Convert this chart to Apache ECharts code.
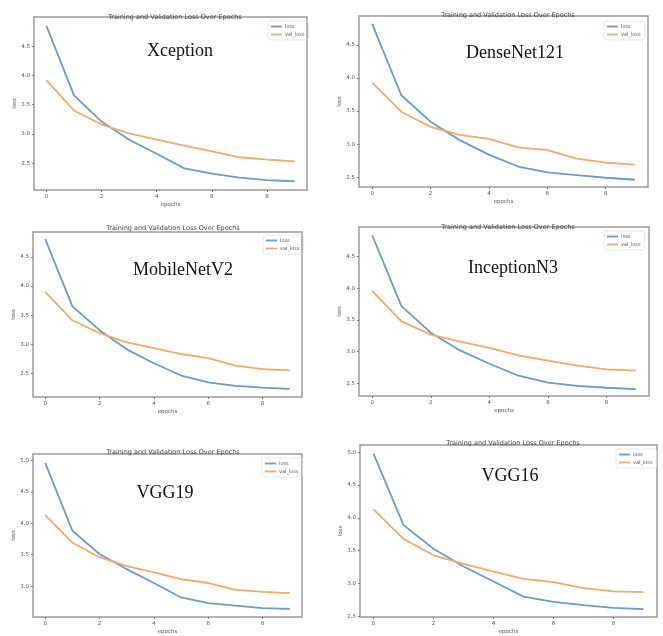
<!DOCTYPE html>
<html>
<head>
<meta charset="utf-8">
<script src="https://cdn.jsdelivr.net/npm/echarts@6/dist/echarts.min.js"></script>
<style>
html,body{margin:0;padding:0;background:#fff;}
#chart{width:663px;height:636px;}
</style>
</head>
<body>
<div id="chart"></div>
<script>
const epochs = [0, 1, 2, 3, 4, 5, 6, 7, 8, 9];
const xTicks = [0, 2, 4, 6, 8];
const panelTitle = 'Training and Validation Loss Over Epochs';
const modelNames = ['Xception', 'DenseNet121', 'MobileNetV2', 'InceptionN3', 'VGG19', 'VGG16'];

const xceptionLoss = [4.85, 3.66, 3.21, 2.90, 2.66, 2.41, 2.32, 2.25, 2.21, 2.19];
const xceptionVal  = [3.92, 3.40, 3.16, 3.01, 2.90, 2.80, 2.70, 2.60, 2.56, 2.53];
const densenetLoss = [4.82, 3.74, 3.34, 3.06, 2.84, 2.66, 2.57, 2.53, 2.49, 2.46];
const densenetVal  = [3.93, 3.49, 3.26, 3.14, 3.08, 2.95, 2.91, 2.78, 2.72, 2.69];
const mobilenetLoss = [4.81, 3.65, 3.24, 2.91, 2.67, 2.46, 2.34, 2.28, 2.25, 2.23];
const mobilenetVal  = [3.90, 3.41, 3.19, 3.03, 2.93, 2.83, 2.76, 2.63, 2.57, 2.55];
const inceptionLoss = [4.84, 3.72, 3.30, 3.02, 2.81, 2.62, 2.51, 2.46, 2.43, 2.41];
const inceptionVal  = [3.96, 3.48, 3.27, 3.16, 3.06, 2.94, 2.86, 2.78, 2.72, 2.70];
const vgg19Loss = [4.96, 3.88, 3.51, 3.27, 3.05, 2.82, 2.73, 2.69, 2.65, 2.64];
const vgg19Val  = [4.13, 3.69, 3.46, 3.32, 3.22, 3.11, 3.05, 2.94, 2.91, 2.89];
const vgg16Loss = [4.98, 3.89, 3.53, 3.26, 3.03, 2.80, 2.72, 2.67, 2.63, 2.61];
const vgg16Val  = [4.13, 3.68, 3.43, 3.30, 3.18, 3.07, 3.02, 2.93, 2.88, 2.87];

const yTicksLow = [2.5, 3.0, 3.5, 4.0, 4.5];
const yTicksHigh = [3.0, 3.5, 4.0, 4.5, 5.0];
const yTicksFull = [2.5, 3.0, 3.5, 4.0, 4.5, 5.0];

const lossSets = [xceptionLoss, densenetLoss, mobilenetLoss, inceptionLoss, vgg19Loss, vgg16Loss];
const valSets = [xceptionVal, densenetVal, mobilenetVal, inceptionVal, vgg19Val, vgg16Val];

// layout (pixels)
const panels = [
  {grid:{left:34, top:17, width:273, height:173}, y:[2.04, 5.00], ticks:yTicksLow, title:[170, 9], name:[175, 48], legend:{left:268, top:21}},
  {grid:{left:359, top:16, width:289, height:171}, y:[2.35, 4.94], ticks:yTicksLow, title:[503, 7], name:[510, 50], legend:{left:604, top:21}},
  {grid:{left:33, top:232, width:269, height:165}, y:[2.09, 4.93], ticks:yTicksLow, title:[168, 220], name:[178, 267], legend:{left:263, top:235}},
  {grid:{left:359, top:227, width:290, height:169}, y:[2.30, 4.97], ticks:yTicksLow, title:[503, 219], name:[508, 265], legend:{left:604, top:231}},
  {grid:{left:33, top:454, width:269, height:167}, y:[2.51, 5.10], ticks:yTicksHigh, title:[168, 444], name:[160, 490], legend:{left:262, top:458}},
  {grid:{left:360, top:445, width:297, height:174}, y:[2.49, 5.11], ticks:yTicksFull, title:[508, 435], name:[505, 473], legend:{left:616, top:449}}
];

const blue = '#6a9bcb';
const orange = '#f5a96b';
const font = 'DejaVu Sans';

const option = {
  animation: false,
  backgroundColor: '#fff',
  title: [],
  legend: [],
  grid: [],
  xAxis: [],
  yAxis: [],
  series: []
};

panels.forEach((p, i) => {
  option.grid.push(Object.assign({show:true, borderColor:'#9a9a9a', borderWidth:1.5, backgroundColor:'transparent'}, p.grid));
  option.xAxis.push({
    type:'value', gridIndex:i, min:-0.45, max:9.45, position:'bottom',
    name:'epochs', nameLocation:'middle', nameGap:12,
    nameTextStyle:{fontFamily:font, fontSize:5.5, color:'#555'},
    axisLine:{show:false, onZero:false}, splitLine:{show:false},
    axisTick:{show:true, length:2, customValues:xTicks, lineStyle:{color:'#777'}},
    axisLabel:{fontFamily:font, fontSize:5.5, color:'#555', margin:4, customValues:xTicks}
  });
  option.yAxis.push({
    type:'value', gridIndex:i, min:p.y[0], max:p.y[1], position:'left',
    name:'loss', nameLocation:'middle', nameGap:15, nameRotate:90,
    nameTextStyle:{fontFamily:font, fontSize:5.5, color:'#555'},
    axisLine:{show:false, onZero:false}, splitLine:{show:false},
    axisTick:{show:true, length:2, customValues:p.ticks, lineStyle:{color:'#777'}},
    axisLabel:{fontFamily:font, fontSize:5.5, color:'#555', margin:4, customValues:p.ticks,
               formatter:(v)=>Number(v).toFixed(1)}
  });
  option.title.push({
    text: panelTitle, left: p.title[0], top: p.title[1], textAlign:'center',
    textStyle:{fontFamily:font, fontSize:6.5, fontWeight:'normal', color:'#444'}
  });
  option.title.push({
    text: modelNames[i], left: p.name[0], top: p.name[1] - 11, textAlign:'center',
    textStyle:{fontFamily:'Liberation Serif', fontSize:18, fontWeight:'normal', color:'#111'}
  });
  option.legend.push({
    data:['loss','val_loss'], orient:'vertical', left:p.legend.left, top:p.legend.top,
    icon:'rect', itemWidth:11, itemHeight:1.8, itemGap:3,
    padding:[3,4,3,3], borderColor:'#e2e2e2', borderWidth:0.8, borderRadius:2,
    textStyle:{fontFamily:font, fontSize:5, color:'#555', padding:[0,0,0,-2]}
  });
  option.series.push({
    name:'loss', type:'line', xAxisIndex:i, yAxisIndex:i,
    data: epochs.map((e, k) => [e, lossSets[i][k]]),
    showSymbol:false, symbol:'none', color:blue,
    lineStyle:{color:blue, width:1.8}
  });
  option.series.push({
    name:'val_loss', type:'line', xAxisIndex:i, yAxisIndex:i,
    data: epochs.map((e, k) => [e, valSets[i][k]]),
    showSymbol:false, symbol:'none', color:orange,
    lineStyle:{color:orange, width:1.8}
  });
});

const chart = echarts.init(document.getElementById('chart'), null, {renderer:'canvas'});
chart.setOption(option);
</script>
</body>
</html>
